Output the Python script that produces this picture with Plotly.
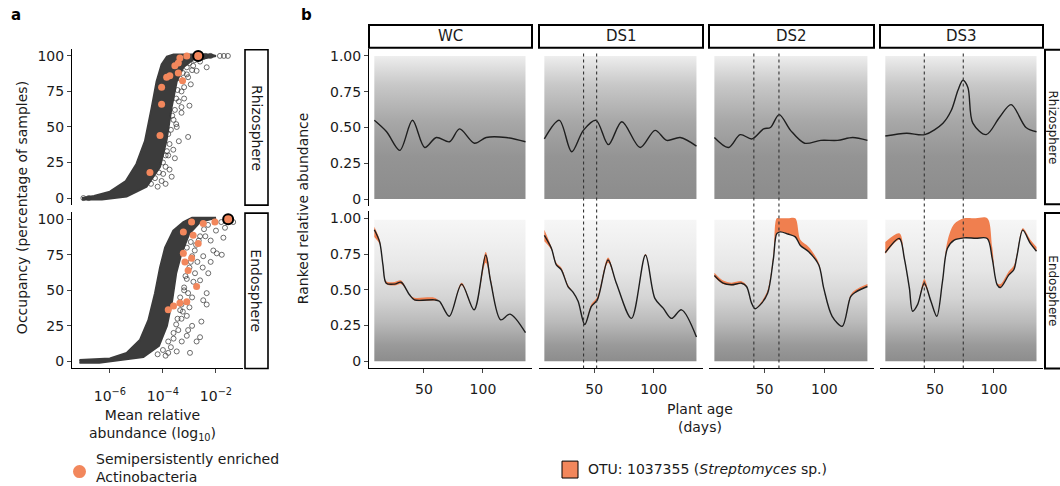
import plotly.graph_objects as go

W, H = 1060, 486
FONT = "DejaVu Sans, Liberation Sans, Arial, sans-serif"
ORANGE = "#F2875C"
RIB = "#F07F4F"
DARK = "#3c3c3c"

# ---------------- Panel a data (log10 mean relative abundance, occupancy %) ----------------
rhizo_cloud_log = [-7.05, -6.6, -6.0, -5.4, -5.0, -4.68, -4.43, -4.24, -4.05, -3.85, -3.6, -2.2, -2.0,
                   -2.5, -2.86, -3.23, -3.48, -3.67, -3.86, -4.11, -4.62, -5.37, -6.3, -7.05]
rhizo_cloud_occ = [0, 1.5, 4.5, 12, 24, 40, 63, 82, 94, 99.5, 101, 101, 100,
                   98, 97.5, 92, 82, 64, 41, 22, 8, 1, -1, -1]
rhizo_out_log = [-3.05, -3.55, -3.67, -3.99, -3.1, -2.73, -2.86, -2.35, -3.48, -3.61, -3.3, -3.2, -3.75,
                 -3.4, -2.95, -1.7, -1.55, -1.85, -3.9, -4.2, -6.8, -7.0, -3.3, -2.6, -3.0, -3.8,
                 -4.45, -4.3, -4.0, -3.9, -3.75, -3.7, -3.6, -3.55, -3.5, -3.45, -3.35, -3.25, -3.1, -3.0,
                 -2.8, -2.5, -3.8, -3.65, -3.4, -3.2, -3.05, -2.9, -4.15, -4.05, -3.85, -3.5, -3.3, -3.9,
                 -2.4, -2.2]
rhizo_out_occ = [43, 28, 15, 17, 87, 89.5, 93, 92, 50, 34, 60, 70, 20,
                 40, 80, 100, 100, 100, 10, 8, 0, 0, 75, 96, 65, 30,
                 10, 14, 25, 30, 38, 48, 55, 62, 70, 76, 84, 88, 92, 95,
                 97, 99, 45, 58, 68, 78, 85, 90, 18, 12, 33, 52, 64, 22,
                 100, 100]
rhizo_orange_log = [-3.10, -3.36, -3.42, -3.55, -3.26, -3.42, -3.74, -3.86, -4.05, -4.05, -4.11, -4.49]
rhizo_orange_occ = [100, 98.5, 95, 93, 82.5, 88, 86, 85, 78, 66, 44, 18]
rhizo_focal_log = [-2.67]
rhizo_focal_occ = [100]

endo_cloud_log = [-7.15, -6.0, -5.37, -4.87, -4.55, -4.30, -4.11, -3.92, -3.61, -3.23, -2.9, -2.0,
                  -2.6, -3.0, -3.3, -3.5, -3.65, -3.85, -4.15, -4.74, -6.4, -7.15]
endo_cloud_occ = [1, 2, 6, 15, 29, 48, 66, 80, 92, 98, 101, 101,
                  98, 90, 76, 62, 43, 25, 11, 3, -1, -1]
endo_out_log = [-3.05, -2.73, -3.29, -3.1, -2.48, -2.35, -2.6, -2.1, -1.78, -1.72, -1.66, -1.35, -3.1,
                -3.42, -3.48, -2.6, -2.35, -2.79, -2.29, -1.97, -2.48, -2.98, -3.8, -3.3, -2.9, -3.2,
                -2.7, -2.2, -2.0, -1.8, -3.0, -3.35, -2.55, -2.9, -3.6, -2.4, -3.1, -2.95,
                -4.0, -3.8, -3.6, -3.45, -3.3, -3.2, -3.1, -3.0, -2.9, -2.75, -2.6, -2.45, -2.3, -3.7,
                -3.5, -3.35, -3.15, -2.95, -2.8, -2.65, -3.25, -3.05, -2.85, -2.5, -2.2, -4.2, -3.9]
endo_out_occ = [22, 14, 14, 18, 43, 48, 57, 78, 75, 87, 94, 98, 32,
                22, 7, 17, 40, 62, 62, 76, 74, 6, 6, 30, 45, 52,
                70, 85, 92, 98, 38, 36, 28, 25, 16, 88, 80, 84,
                8, 14, 20, 30, 40, 50, 58, 66, 74, 82, 88, 93, 96, 10,
                26, 45, 60, 70, 78, 85, 35, 48, 56, 66, 70, 5, 4]
endo_orange_log = [-2.04, -2.48, -2.92, -3.23, -2.86, -2.67, -3.23, -3.17, -2.92, -3.05, -2.73, -3.1,
                   -3.36, -3.8, -3.6]
endo_orange_occ = [98, 97, 98, 91, 88.8, 83, 76, 70, 72.5, 64, 52.7, 42, 41, 36.4, 39]
endo_focal_log = [-1.54]
endo_focal_occ = [100]

# ---------------- Panel b data (plant age in days, ranked relative abundance) ----------------
treatments = ["WC", "DS1", "DS2", "DS3"]
drought_days = {"WC": [], "DS1": [41, 52], "DS2": [41, 62], "DS3": [41, 74]}

wc_rhizo_day = [8, 18.4, 29.6, 40.3, 50.7, 60.5, 71.7, 80.2, 92.8, 102.7, 119.5, 136]
wc_rhizo_val = [0.55, 0.47, 0.34, 0.55, 0.36, 0.43, 0.40, 0.49, 0.39, 0.43, 0.43, 0.40]
ds1_rhizo_day = [8, 20.6, 31.0, 40.8, 51.5, 61.9, 73.2, 88.6, 101.2, 111, 122.3, 136]
ds1_rhizo_val = [0.42, 0.55, 0.33, 0.48, 0.55, 0.38, 0.54, 0.36, 0.48, 0.41, 0.43, 0.37]
ds2_rhizo_day = [8, 19.8, 29.6, 39.5, 49.2, 54.9, 62.2, 71.7, 83.5, 97.0, 111.1, 123.7, 136]
ds2_rhizo_val = [0.43, 0.36, 0.45, 0.42, 0.49, 0.50, 0.59, 0.48, 0.39, 0.41, 0.41, 0.43, 0.41]
ds3_rhizo_day = [8, 26.0, 41.4, 56.8, 63.9, 69.5, 73.7, 77.9, 82.1, 93.4, 104.6, 114.5, 127.1, 136]
ds3_rhizo_val = [0.44, 0.46, 0.45, 0.53, 0.62, 0.76, 0.83, 0.78, 0.53, 0.45, 0.57, 0.66, 0.50, 0.47]

wc_endo_day = [8, 12.5, 15.3, 18.1, 25.2, 30.7, 37.8, 42.0, 58.8, 63.1, 71.5, 81.9, 92.5, 102.3, 106.5,
               115.0, 122.9, 136]
wc_endo_val = [0.92, 0.835, 0.674, 0.546, 0.54, 0.553, 0.465, 0.43, 0.43, 0.42, 0.315, 0.54, 0.36, 0.743,
               0.558, 0.29, 0.33, 0.20]
wc_endo_hi = [0.94, 0.85, 0.674, 0.56, 0.555, 0.565, 0.465, 0.445, 0.445, 0.42, 0.315, 0.55, 0.36, 0.765,
              0.58, 0.29, 0.33, 0.20]
wc_endo_lo = [0.87, 0.82, 0.674, 0.54, 0.53, 0.54, 0.465, 0.425, 0.425, 0.42, 0.315, 0.53, 0.36, 0.69,
              0.555, 0.29, 0.33, 0.20]

ds1_endo_day = [8, 13.9, 18.1, 22.3, 27.9, 32.1, 36.4, 42.0, 47.6, 52.6, 61.6, 68.6, 81.3, 93.1, 101.0,
                108.0, 115.0, 123.4, 136]
ds1_endo_val = [0.88, 0.79, 0.674, 0.64, 0.523, 0.484, 0.42, 0.257, 0.384, 0.43, 0.708, 0.546, 0.30, 0.743,
                0.44, 0.372, 0.30, 0.36, 0.17]
ds1_endo_hi = [0.92, 0.80, 0.69, 0.655, 0.535, 0.484, 0.42, 0.257, 0.40, 0.45, 0.725, 0.546, 0.30, 0.75,
               0.44, 0.372, 0.30, 0.36, 0.17]
ds1_endo_lo = [0.84, 0.78, 0.674, 0.64, 0.52, 0.484, 0.42, 0.257, 0.384, 0.425, 0.69, 0.546, 0.30, 0.743,
               0.44, 0.372, 0.30, 0.36, 0.17]

ds2_endo_day = [8, 15.3, 22.3, 30.7, 34.9, 39.1, 42.0, 47.6, 52.6, 57.4, 60.2, 63.1, 69.5, 75.7, 79.9,
                86.9, 95.3, 99.5, 106.5, 114.9, 122.0, 126.2, 136]
ds2_endo_val = [0.60, 0.546, 0.535, 0.546, 0.523, 0.407, 0.368, 0.407, 0.477, 0.72, 0.893, 0.905, 0.89,
                0.87, 0.81, 0.766, 0.674, 0.51, 0.315, 0.245, 0.453, 0.484, 0.523]
ds2_endo_hi = [0.62, 0.565, 0.55, 0.56, 0.53, 0.407, 0.368, 0.42, 0.50, 0.75, 1.0, 1.0, 1.0,
               1.0, 0.85, 0.80, 0.69, 0.51, 0.315, 0.245, 0.465, 0.50, 0.54]
ds2_endo_lo = [0.59, 0.54, 0.53, 0.54, 0.52, 0.407, 0.368, 0.407, 0.477, 0.72, 0.893, 0.905, 0.89,
               0.87, 0.81, 0.766, 0.674, 0.51, 0.315, 0.245, 0.453, 0.484, 0.523]

ds3_endo_day = [8, 19.9, 24.1, 28.4, 31.1, 35.3, 41.0, 46.6, 51.6, 56.4, 60.6, 66.3, 74.7, 84.5, 94.3,
                98.5, 102.7, 105.5, 112.6, 116.8, 119.6, 124.4, 130.8, 136]
ds3_endo_val = [0.76, 0.859, 0.72, 0.51, 0.35, 0.396, 0.546, 0.42, 0.315, 0.558, 0.79, 0.847, 0.863, 0.86,
                0.859, 0.72, 0.535, 0.516, 0.604, 0.64, 0.743, 0.917, 0.824, 0.77]
ds3_endo_hi = [0.835, 0.895, 0.73, 0.51, 0.35, 0.396, 0.576, 0.42, 0.315, 0.57, 0.84, 0.96, 1.0, 1.0,
               1.0, 0.80, 0.545, 0.54, 0.63, 0.67, 0.76, 0.93, 0.85, 0.80]
ds3_endo_lo = [0.75, 0.85, 0.72, 0.51, 0.35, 0.396, 0.53, 0.42, 0.315, 0.558, 0.79, 0.847, 0.863, 0.86,
               0.859, 0.72, 0.535, 0.516, 0.604, 0.64, 0.743, 0.917, 0.824, 0.77]

a_ticks = [0, 25, 50, 75, 100]
b_ticks = [0, 0.25, 0.5, 0.75, 1.0]
b_ticktext = ["0", "0.25", "0.50", "0.75", "1.00"]
b_xticks = [50, 100]
data_span = [8, 136]

rhizo_lines = {"WC": (wc_rhizo_day, wc_rhizo_val), "DS1": (ds1_rhizo_day, ds1_rhizo_val),
               "DS2": (ds2_rhizo_day, ds2_rhizo_val), "DS3": (ds3_rhizo_day, ds3_rhizo_val)}
endo_lines = {"WC": (wc_endo_day, wc_endo_val, wc_endo_lo, wc_endo_hi),
              "DS1": (ds1_endo_day, ds1_endo_val, ds1_endo_lo, ds1_endo_hi),
              "DS2": (ds2_endo_day, ds2_endo_val, ds2_endo_lo, ds2_endo_hi),
              "DS3": (ds3_endo_day, ds3_endo_val, ds3_endo_lo, ds3_endo_hi)}


def fx(p):
    return p / W


def fy(p):
    return 1 - p / H


fig = go.Figure()
lay = {}
shapes = []
annots = []
TICKFONT = dict(family=FONT, size=14, color="#1a1a1a")


def ax_names(n):
    return ("x" if n == 1 else f"x{n}", "y" if n == 1 else f"y{n}",
            "xaxis" if n == 1 else f"xaxis{n}", "yaxis" if n == 1 else f"yaxis{n}")


# ---------------- Panel a ----------------
A_X = [72, 243]
A_ROWS = [[48, 205], [212, 369]]
a_sets = [
    (rhizo_cloud_log, rhizo_cloud_occ, rhizo_out_log, rhizo_out_occ, rhizo_orange_log, rhizo_orange_occ,
     rhizo_focal_log, rhizo_focal_occ),
    (endo_cloud_log, endo_cloud_occ, endo_out_log, endo_out_occ, endo_orange_log, endo_orange_occ,
     endo_focal_log, endo_focal_occ),
]
for i, (cl, co, ol, oo, gl, go_, fl, fo) in enumerate(a_sets):
    n = i + 1
    xa, ya, xk, yk = ax_names(n)
    bottom = i == 1
    lay[xk] = dict(domain=[fx(A_X[0]), fx(A_X[1])], anchor=ya, type="log", range=[-7.43, -0.98],
                   tickvals=[1e-6, 1e-4, 1e-2],
                   ticktext=["10<sup>\u22126</sup>", "10<sup>\u22124</sup>", "10<sup>\u22122</sup>"],
                   showticklabels=bottom, ticks="outside" if bottom else "", ticklen=4,
                   ticklabelstandoff=11,
                   showline=bottom, linecolor="black", linewidth=1, showgrid=False, zeroline=False,
                   tickfont=TICKFONT)
    lay[yk] = dict(domain=[fy(A_ROWS[i][1]), fy(A_ROWS[i][0])], anchor=xa, range=[-5, 105],
                   tickvals=a_ticks, ticks="outside", ticklen=4, showline=True, linecolor="black",
                   linewidth=1, showgrid=False, zeroline=False, tickfont=TICKFONT)
    fig.add_trace(go.Scatter(x=[10 ** v for v in cl], y=co, xaxis=xa, yaxis=ya, mode="lines",
                             fill="toself", fillcolor=DARK, line=dict(color=DARK, width=2),
                             hoverinfo="skip"))
    fig.add_trace(go.Scatter(x=[10 ** v for v in ol], y=oo, xaxis=xa, yaxis=ya, mode="markers",
                             marker=dict(symbol="circle-open", size=5, color="rgba(55,55,55,0.8)",
                                         line=dict(width=0.9)), hoverinfo="skip"))
    fig.add_trace(go.Scatter(x=[10 ** v for v in gl], y=go_, xaxis=xa, yaxis=ya, mode="markers",
                             marker=dict(size=7, color=ORANGE, line=dict(width=0)), hoverinfo="skip"))
    fig.add_trace(go.Scatter(x=[10 ** v for v in fl], y=fo, xaxis=xa, yaxis=ya, mode="markers",
                             marker=dict(size=10, color=ORANGE, line=dict(width=2, color="black")),
                             hoverinfo="skip"))

# panel a strips
for (t, (y0, y1)) in zip(["Rhizosphere", "Endosphere"], [[49, 205], [213, 369]]):
    shapes.append(dict(type="rect", xref="paper", yref="paper", x0=fx(245), x1=fx(268), y0=fy(y1),
                       y1=fy(y0), line=dict(color="black", width=1.6), fillcolor="white"))
    annots.append(dict(text=t, x=fx(256.5), y=fy((y0 + y1) / 2), textangle=90,
                       font=dict(family=FONT, size=14, color="#1a1a1a")))

# ---------------- Panel b ----------------
B_COLS = [[369, 532], [539, 703], [709, 874], [880, 1043]]
B_ROWS = [[48, 206], [211, 369]]
RHIZO_SCALE = [[0, "#8c8c8c"], [0.3, "#949494"], [0.55, "#a8a8a8"], [0.8, "#c8c8c8"], [0.93, "#e0e0e0"],
               [1, "#eeeeee"]]
ENDO_SCALE = [[0, "#8c8c8c"], [0.12, "#9a9a9a"], [0.28, "#bababa"], [0.45, "#d4d4d4"], [0.65, "#e6e6e6"],
              [0.85, "#f0f0f0"], [1, "#f6f6f6"]]

for r in range(2):
    for c, tr in enumerate(treatments):
        n = 3 + r * 4 + c
        xa, ya, xk, yk = ax_names(n)
        bottom = r == 1
        first = c == 0
        lay[xk] = dict(domain=[fx(B_COLS[c][0]), fx(B_COLS[c][1])], anchor=ya, range=[3.5, 141.5],
                       tickvals=b_xticks, showticklabels=bottom, ticks="outside" if bottom else "",
                       ticklen=4, ticklabelstandoff=4, showline=bottom, linecolor="black", linewidth=1,
                       showgrid=False, zeroline=False, tickfont=TICKFONT)
        lay[yk] = dict(domain=[fy(B_ROWS[r][1]), fy(B_ROWS[r][0])], anchor=xa, range=[-0.05, 1.05],
                       tickvals=b_ticks, ticktext=b_ticktext, showticklabels=first,
                       ticks="outside" if first else "", ticklen=4, showline=first, linecolor="black",
                       linewidth=1, showgrid=False, zeroline=False, tickfont=TICKFONT)
        top = 1.0 if r == 0 else 0.99
        fig.add_trace(go.Scatter(x=data_span, y=[top, top], xaxis=xa, yaxis=ya, mode="lines",
                                 line=dict(width=0), fill="tozeroy",
                                 fillgradient=dict(type="vertical", start=0, stop=top,
                                                   colorscale=RHIZO_SCALE if r == 0 else ENDO_SCALE),
                                 hoverinfo="skip"))
        if r == 0:
            d, v = rhizo_lines[tr]
        else:
            d, v, lo, hi = endo_lines[tr]
            fig.add_trace(go.Scatter(x=d, y=lo, xaxis=xa, yaxis=ya, mode="lines",
                                     line=dict(width=0, shape="spline", smoothing=0.9), hoverinfo="skip"))
            fig.add_trace(go.Scatter(x=d, y=hi, xaxis=xa, yaxis=ya, mode="lines", fill="tonexty",
                                     fillcolor=RIB, line=dict(width=0, shape="spline", smoothing=0.9),
                                     hoverinfo="skip"))
        fig.add_trace(go.Scatter(x=d, y=v, xaxis=xa, yaxis=ya, mode="lines",
                                 line=dict(color="#1e1e1e", width=1.4, shape="spline", smoothing=0.9),
                                 hoverinfo="skip"))
        if r == 0:
            for day in drought_days[tr]:
                shapes.append(dict(type="line", xref=xa, yref="paper", x0=day, x1=day,
                                   y0=fy(369), y1=fy(50), line=dict(color="#333333", width=1.1, dash="dot")))

# top strips
for c, tr in enumerate(treatments):
    shapes.append(dict(type="rect", xref="paper", yref="paper", x0=fx(B_COLS[c][0]), x1=fx(B_COLS[c][1]),
                       y0=fy(47), y1=fy(24), line=dict(color="black", width=2), fillcolor="white"))
    annots.append(dict(text=tr, x=fx(sum(B_COLS[c]) / 2), y=fy(35.5),
                       font=dict(family=FONT, size=15, color="#1a1a1a")))
# right strips (cut off by the figure edge in the reference)
for (t, (y0, y1)) in zip(["Rhizosphere", "Endosphere"], [[49, 204], [213, 369]]):
    shapes.append(dict(type="rect", xref="paper", yref="paper", x0=fx(1045), x1=fx(1068), y0=fy(y1),
                       y1=fy(y0), line=dict(color="black", width=2), fillcolor="white"))
    annots.append(dict(text=t, x=fx(1053.5), y=fy((y0 + y1) / 2), textangle=90,
                       font=dict(family=FONT, size=12, color="#1a1a1a")))

# ---------------- titles, labels, legends ----------------
TF = dict(family=FONT, size=14, color="#1a1a1a")
annots += [
    dict(text="<b>a</b>", x=fx(9), y=fy(14), xanchor="left", font=dict(family=FONT, size=15, color="black")),
    dict(text="<b>b</b>", x=fx(299), y=fy(14), xanchor="left", font=dict(family=FONT, size=15, color="black")),
    dict(text="Occupancy (percentage of samples)", x=fx(22), y=fy(208), textangle=-90, font=TF),
    dict(text="Mean relative<br>abundance (log<sub>10</sub>)", x=fx(152), y=fy(426), font=TF),
    dict(text="Ranked relative abundance", x=fx(303), y=fy(208), textangle=-90, font=TF),
    dict(text="Plant age<br>(days)", x=fx(700), y=fy(419), font=TF),
    dict(text="Semipersistently enriched<br>Actinobacteria", x=fx(94), y=fy(469), xanchor="left",
         align="left", font=TF),
    dict(text="OTU: 1037355 (<i>Streptomyces</i> sp.)", x=fx(586), y=fy(470), xanchor="left", font=TF),
]
for a in annots:
    a.setdefault("xref", "paper")
    a.setdefault("yref", "paper")
    a.setdefault("showarrow", False)
    a.setdefault("xanchor", "center")
    a.setdefault("yanchor", "middle")

shapes.append(dict(type="circle", xref="paper", yref="paper", x0=fx(73), x1=fx(86), y0=fy(479), y1=fy(466),
                   fillcolor=ORANGE, line=dict(width=0)))
shapes.append(dict(type="rect", xref="paper", yref="paper", x0=fx(562), x1=fx(578), y0=fy(479), y1=fy(462),
                   fillcolor=ORANGE, line=dict(color="black", width=1)))

fig.update_layout(width=W, height=H, margin=dict(l=0, r=0, t=0, b=0), showlegend=False,
                  paper_bgcolor="white", plot_bgcolor="rgba(0,0,0,0)", shapes=shapes, annotations=annots,
                  font=dict(family=FONT), **lay)
fig.write_html("out.html", config={"displayModeBar": False},
               post_script="document.body.style.margin='0px';")
